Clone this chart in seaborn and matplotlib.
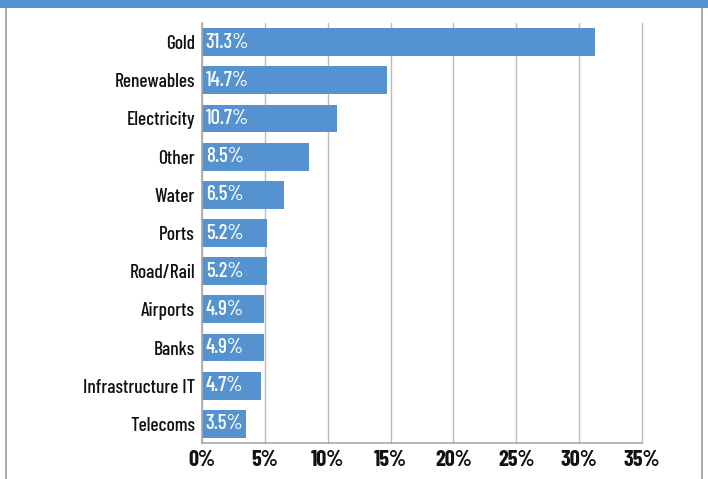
import matplotlib
matplotlib.use("Agg")
import matplotlib.pyplot as plt
import seaborn as sns
import pandas as pd
from matplotlib.patches import Rectangle
from matplotlib.lines import Line2D
from matplotlib import font_manager

categories = ["Gold", "Renewables", "Electricity", "Other", "Water", "Ports",
              "Road/Rail", "Airports", "Banks", "Infrastructure IT", "Telecoms"]
values = [31.3, 14.7, 10.7, 8.5, 6.5, 5.2, 5.2, 4.9, 4.9, 4.7, 3.5]
xticks = [0, 5, 10, 15, 20, 25, 30, 35]
xtick_labels = ["0%", "5%", "10%", "15%", "20%", "25%", "30%", "35%"]

sns.set_theme(style="white")
names = {f.name for f in font_manager.fontManager.ttflist}
prefs = ["Barlow Condensed", "Roboto Condensed", "Archivo Narrow",
         "Barlow Semi Condensed", "Asap Condensed"]
chosen = [p for p in prefs if p in names][:1]
plt.rcParams["font.family"] = chosen + ["DejaVu Sans"]

blue = "#5592d0"
df = pd.DataFrame({"cat": categories, "val": values})

fig = plt.figure(figsize=(7.08, 4.79), dpi=100)
ax = fig.add_axes([202/708, 1-443/479, 440/708, 420/479])
sns.barplot(data=df, x="val", y="cat", color=blue, saturation=1, width=0.73,
            edgecolor="none", ax=ax)

ax.set_xlim(0, 35)
ax.set_ylim(10.5, -0.5)
ax.set_xticks(xticks)
ax.set_xticklabels(xtick_labels, fontsize=16, fontweight="bold", color="#111111")
ax.tick_params(axis="y", labelsize=14, colors="#111111", length=0, pad=5)
ax.tick_params(axis="x", length=0, pad=5)
for lab in ax.get_yticklabels():
    lab.set_fontweight("medium")
ax.set_xlabel("")
ax.set_ylabel("")
ax.xaxis.grid(True, color="#bbbbbb", linewidth=1)
for gl in ax.get_xgridlines():
    gl.set_clip_on(False)
ax.set_axisbelow(True)
for s in ["top", "right"]:
    ax.spines[s].set_visible(False)
for s in ["left", "bottom"]:
    ax.spines[s].set_color("#aaaaaa")
    ax.spines[s].set_linewidth(1.2)

for i, v in enumerate(values):
    ax.text(0.3, i, f"{v}%", color="white", fontsize=15, fontweight="medium",
            va="center", ha="left")

# header band and frame
fig.patches.append(Rectangle((0, 1-8/479), 1, 8/479, transform=fig.transFigure,
                             facecolor=blue, edgecolor="none"))
fig.lines.append(Line2D([6/708, 6/708], [0, 1-8/479], transform=fig.transFigure,
                        color="#999999", linewidth=1.2))
fig.lines.append(Line2D([702/708, 702/708], [0, 1-8/479], transform=fig.transFigure,
                        color="#999999", linewidth=1.2))

fig.savefig("out.png", dpi=100)
